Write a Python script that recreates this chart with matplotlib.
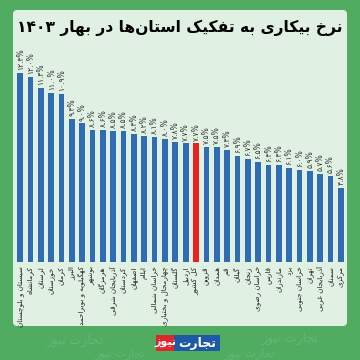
import matplotlib
matplotlib.use("Agg")
import matplotlib.pyplot as plt
from matplotlib.patches import FancyBboxPatch, Rectangle

# ---------------- data ----------------
provinces = [
    "سیستان و بلوچستان", "کرمانشاه", "لرستان", "خوزستان", "کرمان", "البرز",
    "کهگیلویه و بویراحمد", "بوشهر", "هرمزگان", "آذربایجان شرقی", "کردستان",
    "اصفهان", "ایلام", "خراسان شمالی", "چهارمحال و بختیاری", "گلستان", "اردبیل",
    "کل کشور", "قزوین", "همدان", "قم", "گیلان", "زنجان", "خراسان رضوی", "فارس",
    "مازندران", "یزد", "خراسان جنوبی", "تهران", "آذربایجان غربی", "سمنان", "مرکزی",
]
rates = [12.3, 12.0, 11.3, 11.0, 10.9, 9.3, 9.0, 8.6, 8.6, 8.5, 8.5,
         8.3, 8.2, 8.1, 8.0, 7.8, 7.7, 7.7, 7.5, 7.5, 7.3, 6.9,
         6.7, 6.5, 6.3, 6.3, 6.1, 6.0, 5.9, 5.7, 5.6, 4.8]
highlight = "کل کشور"
title_text = "نرخ بیکاری به تفکیک استان‌ها در بهار ۱۴۰۳"

# ---------------- minimal Persian shaping ----------------
FORMS = {
    'ا': ('\uFE8D', '\uFE8E', None, None), 'آ': ('\uFE81', '\uFE82', None, None),
    'ب': ('\uFE8F', '\uFE90', '\uFE91', '\uFE92'), 'پ': ('\uFB56', '\uFB57', '\uFB58', '\uFB59'),
    'ت': ('\uFE95', '\uFE96', '\uFE97', '\uFE98'), 'ث': ('\uFE99', '\uFE9A', '\uFE9B', '\uFE9C'),
    'ج': ('\uFE9D', '\uFE9E', '\uFE9F', '\uFEA0'), 'چ': ('\uFB7A', '\uFB7B', '\uFB7C', '\uFB7D'),
    'ح': ('\uFEA1', '\uFEA2', '\uFEA3', '\uFEA4'), 'خ': ('\uFEA5', '\uFEA6', '\uFEA7', '\uFEA8'),
    'د': ('\uFEA9', '\uFEAA', None, None), 'ذ': ('\uFEAB', '\uFEAC', None, None),
    'ر': ('\uFEAD', '\uFEAE', None, None), 'ز': ('\uFEAF', '\uFEB0', None, None),
    'ژ': ('\uFB8A', '\uFB8B', None, None),
    'س': ('\uFEB1', '\uFEB2', '\uFEB3', '\uFEB4'), 'ش': ('\uFEB5', '\uFEB6', '\uFEB7', '\uFEB8'),
    'ص': ('\uFEB9', '\uFEBA', '\uFEBB', '\uFEBC'), 'ض': ('\uFEBD', '\uFEBE', '\uFEBF', '\uFEC0'),
    'ط': ('\uFEC1', '\uFEC2', '\uFEC3', '\uFEC4'), 'ظ': ('\uFEC5', '\uFEC6', '\uFEC7', '\uFEC8'),
    'ع': ('\uFEC9', '\uFECA', '\uFECB', '\uFECC'), 'غ': ('\uFECD', '\uFECE', '\uFECF', '\uFED0'),
    'ف': ('\uFED1', '\uFED2', '\uFED3', '\uFED4'), 'ق': ('\uFED5', '\uFED6', '\uFED7', '\uFED8'),
    'ک': ('\uFB8E', '\uFB8F', '\uFB90', '\uFB91'), 'گ': ('\uFB92', '\uFB93', '\uFB94', '\uFB95'),
    'ل': ('\uFEDD', '\uFEDE', '\uFEDF', '\uFEE0'), 'م': ('\uFEE1', '\uFEE2', '\uFEE3', '\uFEE4'),
    'ن': ('\uFEE5', '\uFEE6', '\uFEE7', '\uFEE8'), 'ه': ('\uFEE9', '\uFEEA', '\uFEEB', '\uFEEC'),
    'و': ('\uFEED', '\uFEEE', None, None),
    'ی': ('\uFBFC', '\uFBFD', '\uFBFE', '\uFBFF'),
}


def shape(text):
    chars = list(text)
    out = []
    n = len(chars)
    for i, c in enumerate(chars):
        if c == '\u200c':
            continue
        if c not in FORMS:
            out.append(c)
            continue
        iso, fin, ini, med = FORMS[c]
        prev = chars[i - 1] if i > 0 else None
        nxt = chars[i + 1] if i + 1 < n else None
        jp = prev in FORMS and FORMS[prev][2] is not None
        jn = ini is not None and nxt in FORMS
        if jp and jn:
            out.append(med)
        elif jp:
            out.append(fin)
        elif jn:
            out.append(ini)
        else:
            out.append(iso)
    # visual reorder: reverse, keeping LTR (digit) runs intact
    ltr = set('0123456789۰۱۲۳۴۵۶۷۸۹.%')
    runs, cur, cur_ltr = [], '', None
    for c in out:
        is_l = c in ltr
        if cur and is_l != cur_ltr:
            runs.append(cur)
            cur = ''
        cur += c
        cur_ltr = is_l
    if cur:
        runs.append(cur)
    vis = []
    for r in reversed(runs):
        vis.append(r if r[0] in ltr else r[::-1])
    return ''.join(vis)


def fa_digits(s):
    return s.translate(str.maketrans('0123456789', '۰۱۲۳۴۵۶۷۸۹'))


# ---------------- figure ----------------
W = H = 360
fig = plt.figure(figsize=(3.6, 3.6), dpi=100)
fig.patch.set_facecolor('#4fac60')


def fx(px):
    return px / W


def fy(py):
    return 1 - py / H


# faint watermarks on green background (outside the panel)
for (x, y, s) in [(75, 340, 9), (290, 338, 9), (120, 354, 8), (250, 354, 8)]:
    fig.text(fx(x), fy(y), shape("تجارت نیوز"), color='white', alpha=0.13,
             fontsize=s, ha='center', va='center', family='DejaVu Sans', zorder=0)

panel = FancyBboxPatch((fx(13), fy(326)), fx(334), (326 - 10) / H,
                       boxstyle="round,pad=0,rounding_size=0.012",
                       transform=fig.transFigure, facecolor='#e0f1e4',
                       edgecolor='none', zorder=1)
fig.patches.append(panel)

fig.text(fx(180), fy(28), shape(title_text), fontsize=11.2, fontweight='bold',
         color='black', ha='center', va='center', family='DejaVu Sans', zorder=3)

# axes: baseline at y=262 px, 15.4 px per unit
ax = fig.add_axes([fx(14), 1 - 262 / H, fx(333), (262 - 46) / H])
ax.set_facecolor('none')
ax.set_zorder(2)
x = list(range(len(provinces)))
colors = ['#e8221e' if p == highlight else '#2f6cb3' for p in provinces]
ax.bar(x, rates, width=0.55, color=colors)
ax.set_xlim(-0.6, len(provinces) - 0.4)
ax.set_ylim(0, 216 / 15.4)
for s in ax.spines.values():
    s.set_visible(False)
ax.set_xticks([])
ax.set_yticks([])

for xi, v in zip(x, rates):
    ax.annotate(fa_digits(f"{v:.1f}%"), (xi, v), xytext=(0, 2), textcoords='offset points',
                rotation=90, ha='center', va='bottom', fontsize=5.5, color='#333333',
                family='DejaVu Sans')
    ax.annotate(shape(provinces[xi]), (xi, 0), xytext=(0, -3), textcoords='offset points',
                rotation=90, ha='center', va='top', fontsize=5.2, color='#222222',
                family='DejaVu Sans', annotation_clip=False)

# logo
fig.patches.append(Rectangle((fx(156), fy(351)), fx(18), 16 / H, transform=fig.transFigure,
                             facecolor='#e2242b', edgecolor='none', zorder=3))
fig.patches.append(Rectangle((fx(174), fy(351)), fx(46), 16 / H, transform=fig.transFigure,
                             facecolor='#1d5aa6', edgecolor='none', zorder=3))
fig.text(fx(165), fy(343), shape("نیوز"), color='white', fontsize=8, fontweight='bold',
         ha='center', va='center', family='DejaVu Sans', zorder=4)
fig.text(fx(197), fy(343), shape("تجارت"), color='white', fontsize=9, fontweight='bold',
         ha='center', va='center', family='DejaVu Sans', zorder=4)

fig.savefig('out.png', dpi=100, facecolor=fig.get_facecolor())
